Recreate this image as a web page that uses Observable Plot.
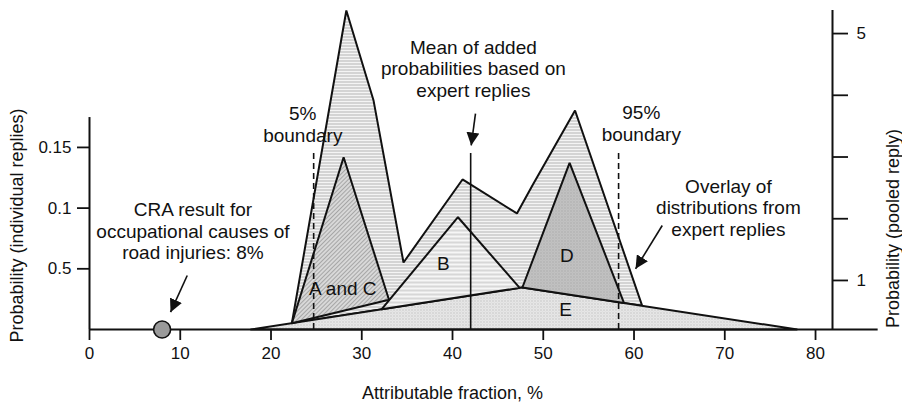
<!DOCTYPE html>
<html><head><meta charset="utf-8">
<script src="https://cdn.jsdelivr.net/npm/d3@7"></script>
<script src="https://cdn.jsdelivr.net/npm/@observablehq/plot@0.6"></script>
<style>body{margin:0;background:#fff} svg{display:block}</style>
</head><body><div id="chart"></div>
<script>
// ---- data ----
const xTicks = [0, 10, 20, 30, 40, 50, 60, 70, 80];
const leftTicks = [0.05, 0.10, 0.15];
const leftTickLabels = ["0.5", "0.1", "0.15"];
const pooledTicks = [1, 2, 3, 4, 5];
const pooledLabelled = [1, 5];

// overlay of distributions (envelope)
const overlayX = [22.3, 28.3, 31.3, 34.6, 41.1, 47.1, 48.8, 53.5, 60.9, 47.7, 22.3];
const overlayY = [0.0052, 0.2628, 0.1886, 0.0552, 0.1236, 0.0956, 0.1186, 0.1804, 0.0195, 0.0346, 0.0052];
// individual replies
const eX = [17.8, 47.7, 78.0, 17.8];
const eY = [0, 0.0346, 0, 0];
const acX = [22.3, 28.0, 33.0, 22.3];
const acY = [0.0052, 0.1419, 0.0245, 0.0052];
const bX = [32.2, 40.6, 47.4, 32.2];
const bY = [0.0167, 0.0925, 0.0343, 0.0167];
const dX = [47.7, 52.9, 58.9, 47.7];
const dY = [0.0346, 0.1373, 0.0218, 0.0346];

const craResult = 8;
const meanValue = 42;
const boundaries = [24.7, 58.3];

// linear link between the two y axes: individual = a + b * pooled
const poolA = -0.01045, poolB = 0.05085;
const toInd = p => poolA + poolB * p;
const toPooled = v => (v - poolA) / poolB;

const yTop = 0.2628;
const leftAxisTop = 0.1746;
const rightAxisX = 81.87;
const baselineEnd = 86.9;
const markerTop = 0.1458;

const pts = (xs, ys) => xs.map((x, i) => ({x, y: ys[i]}));

const notes = [
  {x: 42.3, y: 0.2150, text: "Mean of added\nprobabilities based on\nexpert replies"},
  {x: 23.5, y: 0.1690, text: "5%\nboundary"},
  {x: 60.8, y: 0.1700, text: "95%\nboundary"},
  {x: 70.4, y: 0.1005, text: "Overlay of\ndistributions from\nexpert replies"},
  {x: 11.4, y: 0.0815, text: "CRA result for\noccupational causes of\nroad injuries: 8%"}
];
const shapeLabels = [
  {x: 27.9, y: 0.0335, text: "A and C"},
  {x: 39.0, y: 0.0541, text: "B"},
  {x: 52.6, y: 0.0610, text: "D"},
  {x: 52.45, y: 0.0162, text: "E"}
];
const arrows = [
  {x1: 42.53, y1: 0.1779, x2: 42.06, y2: 0.1516},
  {x1: 10.77, y1: 0.0445, x2: 8.93, y2: 0.0143},
  {x1: 63.11, y1: 0.0857, x2: 60.17, y2: 0.0500}
];

const ink = "#111";
const poly = (data, fill) => Plot.line(data, {x: "x", y: "y", fill, stroke: ink, strokeWidth: 2, strokeLinejoin: "miter"});

const chart = Plot.plot({
  width: 902,
  height: 407,
  marginTop: 10,
  marginBottom: 78,
  marginLeft: 89,
  marginRight: 70,
  style: {fontFamily: "'Liberation Sans', Arial, sans-serif", fontSize: "17px", color: ink, background: "#fff"},
  x: {domain: [0, rightAxisX]},
  y: {domain: [0, yTop]},
  marks: [
    poly(pts(overlayX, overlayY), "url(#pOuter)"),
    poly(pts(eX, eY), "url(#pE)"),
    poly(pts(acX, acY), "url(#pAC)"),
    poly(pts(bX, bY), "url(#pB)"),
    poly(pts(dX, dY), "url(#pD)"),
    Plot.ruleY([0], {x1: 0, x2: baselineEnd, stroke: ink, strokeWidth: 2}),
    Plot.ruleX([0], {y1: 0, y2: leftAxisTop, stroke: ink, strokeWidth: 2}),
    Plot.ruleX([rightAxisX], {y1: 0, y2: yTop, stroke: ink, strokeWidth: 2}),
    Plot.ruleX(boundaries, {y1: 0, y2: markerTop, stroke: ink, strokeWidth: 1.6, strokeDasharray: "6,4"}),
    Plot.ruleX([meanValue], {y1: 0, y2: 0.145, stroke: ink, strokeWidth: 1.6}),
    Plot.dot([craResult], {x: d => d, y: 0, r: 8.5, fill: "#9a9a9a", stroke: ink, strokeWidth: 1.6}),
    Plot.axisX({ticks: xTicks, tickSize: 11, tickPadding: 6, strokeWidth: 1.8, label: null, fontSize: 17}),
    Plot.axisY({anchor: "left", ticks: leftTicks, tickFormat: d => leftTickLabels[leftTicks.indexOf(d)], tickSize: 12, tickPadding: 6, strokeWidth: 1.8, label: null, fontSize: 17}),
    Plot.axisY({anchor: "right", ticks: pooledTicks.map(toInd), tickFormat: d => { const p = Math.round(toPooled(d)); return pooledLabelled.includes(p) ? String(p) : ""; }, tickSize: 15, tickPadding: 9, strokeWidth: 1.8, label: null, fontSize: 17}),
    Plot.text(notes, {x: "x", y: "y", text: "text", fontSize: 19, lineHeight: 1.14, fill: ink}),
    Plot.text(shapeLabels, {x: "x", y: "y", text: "text", fontSize: 19, fill: ink}),
    Plot.text(["Attributable fraction, %"], {x: 40.0, y: -0.0525, text: d => d, fontSize: 18, fill: ink}),
    Plot.text(["Probability (individual replies)"], {x: -7.93, y: 0.0857, text: d => d, rotate: -90, fontSize: 18, fill: ink}),
    Plot.text(["Probability (pooled reply)"], {x: 88.6, y: 0.0832, text: d => d, rotate: -90, fontSize: 18, fill: ink}),
    Plot.link(arrows, {x1: "x1", y1: "y1", x2: "x2", y2: "y2", stroke: ink, strokeWidth: 1.6})
  ]
});

const defs = `<defs>
<pattern id="pOuter" width="4" height="3" patternUnits="userSpaceOnUse">
  <rect width="4" height="3" fill="#f4f4f4"/><rect y="0" width="4" height="1" fill="#b4b4b4"/></pattern>
<pattern id="pE" width="3" height="3" patternUnits="userSpaceOnUse">
  <rect width="3" height="3" fill="#ececec"/><rect x="0" y="0" width="1" height="1" fill="#a8a8a8"/><rect x="1.5" y="1.5" width="1" height="1" fill="#bdbdbd"/></pattern>
<pattern id="pAC" width="3" height="3" patternUnits="userSpaceOnUse" patternTransform="rotate(45)">
  <rect width="3" height="3" fill="#d8d8d8"/><rect width="1" height="3" fill="#a6a6a6"/></pattern>
<pattern id="pB" width="4" height="4" patternUnits="userSpaceOnUse">
  <rect width="4" height="4" fill="#f6f6f6"/><path d="M0,3 L2,1 M2,3 L4,1" stroke="#b0b0b0" stroke-width="0.9"/></pattern>
<pattern id="pD" width="3" height="3" patternUnits="userSpaceOnUse">
  <rect width="3" height="3" fill="#c4c4c4"/><rect x="0" y="0" width="1" height="1" fill="#9c9c9c"/><rect x="1.5" y="1.5" width="1" height="1" fill="#a8a8a8"/></pattern>
<marker id="ah" viewBox="0 0 10 10" refX="10" refY="5" markerWidth="13" markerHeight="13" markerUnits="userSpaceOnUse" orient="auto">
  <path d="M0,0 L10,5 L0,10 Z" fill="${ink}"/></marker>
</defs>`;
chart.insertAdjacentHTML("afterbegin", defs);
chart.querySelectorAll('g[aria-label="link"] path').forEach(p => p.setAttribute("marker-end", "url(#ah)"));
document.getElementById("chart").append(chart);
</script>
</body></html>
